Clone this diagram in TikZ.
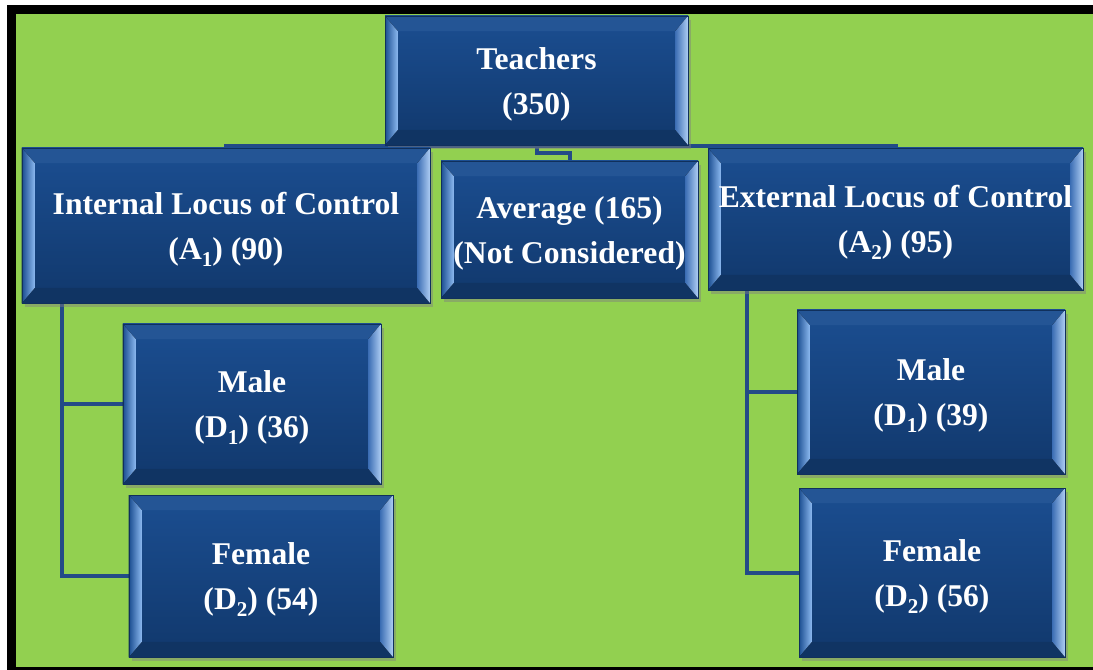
\documentclass[tikz,border=0pt]{standalone}
\usepackage{fontspec}
\setmainfont{Liberation Serif}
\usetikzlibrary{calc,shadows}

\definecolor{bggreen}{RGB}{146,208,80}
\definecolor{boxtop}{RGB}{27,78,145}
\definecolor{boxbot}{RGB}{17,56,108}
\definecolor{boxedge}{RGB}{16,48,92}
\definecolor{bevello}{RGB}{60,110,180}
\definecolor{bevelhi}{RGB}{140,185,240}
\definecolor{linkblue}{RGB}{35,75,135}

\pgfdeclarelayer{back}
\pgfdeclarelayer{bg}
\pgfsetlayers{back,bg,main}

\newcommand{\boxfont}{\fontsize{22.5pt}{32pt}\selectfont\bfseries}
\newcommand{\lowidx}[1]{\raisebox{-0.5ex}{\fontsize{15pt}{15pt}\selectfont #1}}
\newcommand{\tstrut}{\rule{0pt}{21pt}}

\begin{document}
\begin{tikzpicture}[x=0.25mm,y=-0.25mm,
    bevelbox/.style={rectangle, inner sep=0pt, align=center, text=white, font=\boxfont,
      top color=boxtop, bottom color=boxbot, draw=boxedge, line width=0.5pt,
      drop shadow={shadow xshift=0.7mm, shadow yshift=-0.9mm, opacity=0.45},
      path picture={
        \path (path picture bounding box.south west) coordinate (sw)
              (path picture bounding box.north east) coordinate (ne);
        % top and bottom bevel
        \fill[boxtop!96!white] (sw |- ne) -- (ne) -- ([shift={(-3.2mm,-3.8mm)}]ne)
          -- ([shift={(3.2mm,-3.8mm)}]sw |- ne) -- cycle;
        \fill[boxbot!92!black] (sw) -- (ne |- sw) -- ([shift={(-3.2mm,3.8mm)}]ne |- sw)
          -- ([shift={(3.2mm,3.8mm)}]sw) -- cycle;
        % left and right bevel
        \fill[left color=boxtop, right color=bevelhi] (sw) -- (sw |- ne)
          -- ([shift={(3.2mm,-3.8mm)}]sw |- ne) -- ([shift={(3.2mm,3.8mm)}]sw) -- cycle;
        \fill[left color=bevello, right color=bevelhi!70!white] (ne |- sw) -- (ne)
          -- ([shift={(-3.2mm,-3.8mm)}]ne) -- ([shift={(-3.2mm,3.8mm)}]ne |- sw) -- cycle;
      }},
    link/.style={linkblue, line width=1mm}]

  \begin{pgfonlayer}{back}
    \fill[white] (0,0) rectangle (1093,670);
    \fill[black] (7,5) rectangle (1093,670);
    \fill[bggreen] (16,14) rectangle (1093,667);
  \end{pgfonlayer}
  \useasboundingbox (0,0) rectangle (1093,670);

  \node[bevelbox, minimum width=75.75mm, minimum height=32.25mm] (teach) at (536.5,80.5) {\tstrut Teachers\\(350)};
  \node[bevelbox, minimum width=102mm, minimum height=38.75mm] (int) at (226,225.5) {\tstrut Internal Locus of Control\\(A\lowidx{1}) (90)};
  \node[bevelbox, minimum width=64.25mm, minimum height=34.25mm] (avg) at (569.5,229.5) {\tstrut Average (165)\\(Not Considered)};
  \node[bevelbox, minimum width=93.75mm, minimum height=35.5mm] (ext) at (895.5,219) {\tstrut External Locus of Control\\(A\lowidx{2}) (95)};

  \node[bevelbox, minimum width=64.5mm, minimum height=40mm] (maleA) at (252,404) {\tstrut Male\\(D\lowidx{1}) (36)};
  \node[bevelbox, minimum width=66mm, minimum height=40.5mm] (femA) at (261,576) {\tstrut Female\\(D\lowidx{2}) (54)};
  \node[bevelbox, minimum width=67mm, minimum height=41mm] (maleB) at (931,392) {\tstrut Male\\(D\lowidx{1}) (39)};
  \node[bevelbox, minimum width=66.5mm, minimum height=42.25mm] (femB) at (932,572.5) {\tstrut Female\\(D\lowidx{2}) (56)};

  \coordinate (stemA) at ([xshift=10mm]int.south west);
  \coordinate (stemB) at ([xshift=9.75mm]ext.south west);

  \begin{pgfonlayer}{bg}
    \draw[link] (teach.south) |- ($(teach.south)!.5!(int.north)$) -| (int.north);
    \draw[link] (teach.south) |- ($(teach.south)!.5!(avg.north)$) -| (avg.north);
    \draw[link] (teach.south) |- ($(teach.south)!.5!(ext.north)$) -| (ext.north);
    \draw[link] (stemA) |- (maleA.west);
    \draw[link] (stemA) |- (femA.west);
    \draw[link] (stemB) |- (maleB.west);
    \draw[link] (stemB) |- (femB.west);
  \end{pgfonlayer}
\end{tikzpicture}
\end{document}
